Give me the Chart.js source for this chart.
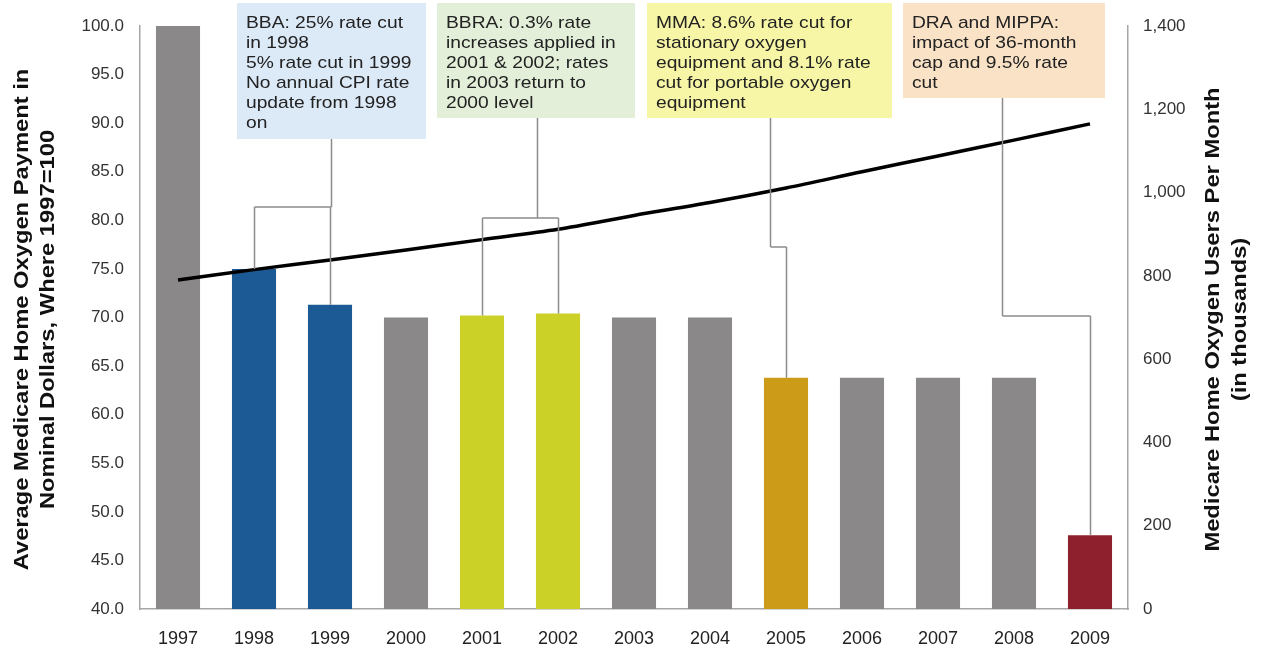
<!DOCTYPE html>
<html>
<head>
<meta charset="utf-8">
<script src="https://cdn.jsdelivr.net/npm/chart.js@4/dist/chart.umd.min.js"></script>
<style>
html,body{margin:0;padding:0;background:#fff;}
#c{display:block;}
</style>
</head>
<body>
<canvas id="c" width="1261" height="656"></canvas>
<script>
// ---- data ----
const years = ['1997','1998','1999','2000','2001','2002','2003','2004','2005','2006','2007','2008','2009'];
const paymentIndex = [100.0, 75.0, 71.3, 70.0, 70.2, 70.4, 70.0, 70.0, 63.8, 63.8, 63.8, 63.8, 47.6];
const usersThousands = [790, 815, 838, 862, 887, 912, 945, 976, 1011, 1050, 1088, 1126, 1165];
const barColors = ['#8a8889','#1b5a94','#1b5a94','#8a8889','#cbd126','#cbd126','#8a8889','#8a8889','#cc9c18','#8a8889','#8a8889','#8a8889','#8e1f2c'];
const leftTicks = [40,45,50,55,60,65,70,75,80,85,90,95,100];
const rightTicks = [0,200,400,600,800,1000,1200,1400];
const leftTitle = ['Average Medicare Home Oxygen Payment in', 'Nominal Dollars, Where 1997=100'];
const rightTitle = ['Medicare Home Oxygen Users Per Month', '(in thousands)'];
const notes = [
  {lines:['BBA: 25% rate cut','in 1998','5% rate cut in 1999','No annual CPI rate','update from 1998','on'], bars:[1,2]},
  {lines:['BBRA: 0.3% rate','increases applied in','2001 & 2002; rates','in 2003 return to','2000 level'], bars:[4,5]},
  {lines:['MMA: 8.6% rate cut for','stationary oxygen','equipment and 8.1% rate','cut for portable oxygen','equipment'], bars:[8]},
  {lines:['DRA and MIPPA:','impact of 36-month','cap and 9.5% rate','cut'], bars:[12]}
];

// ---- layout (styles/positions) ----
const FONT = '"Liberation Sans", Arial, sans-serif';
const boxStyle = [
  {x:237, y:3, w:189, h:136, fill:'#dce9f7', stemX:331, joinY:207},
  {x:437, y:3, w:198, h:115, fill:'#e3efd9', stemX:537, joinY:218},
  {x:647, y:3, w:245, h:115, fill:'#f6f6a6', stemX:770, joinY:247},
  {x:903, y:3, w:202, h:95,  fill:'#f9e2c6', stemX:1002, joinY:316}
];

const annotPlugin = {
  id:'annot',
  afterDatasetsDraw(chart){
    const ctx = chart.ctx;
    const xs = chart.scales.x, ys = chart.scales.y;
    ctx.save();
    // connectors
    ctx.strokeStyle = '#8c8c8c';
    ctx.lineWidth = 1.5;
    notes.forEach((n,i)=>{
      const b = boxStyle[i];
      const cx = n.bars.map(k=>Math.round(xs.getPixelForValue(k))+0.5);
      const tops = n.bars.map(k=>ys.getPixelForValue(paymentIndex[k]));
      ctx.beginPath();
      ctx.moveTo(b.stemX+0.5, b.y+b.h);
      ctx.lineTo(b.stemX+0.5, b.joinY);
      const xmin = Math.min(b.stemX+0.5, ...cx), xmax = Math.max(b.stemX+0.5, ...cx);
      ctx.moveTo(xmin, b.joinY);
      ctx.lineTo(xmax, b.joinY);
      cx.forEach((x,j)=>{ ctx.moveTo(x, b.joinY); ctx.lineTo(x, tops[j]); });
      ctx.stroke();
    });
    // boxes
    notes.forEach((n,i)=>{
      const b = boxStyle[i];
      ctx.fillStyle = b.fill;
      ctx.fillRect(b.x, b.y, b.w, b.h);
      ctx.fillStyle = '#222';
      ctx.font = '17px ' + FONT;
      ctx.textAlign = 'left';
      ctx.textBaseline = 'middle';
      n.lines.forEach((t,j)=>{
        ctx.save();
        ctx.translate(b.x+9, b.y+20+j*20);
        ctx.scale(1.13, 1);
        ctx.fillText(t, 0, 0);
        ctx.restore();
      });
    });
    ctx.restore();
  },
  afterDraw(chart){
    const ctx = chart.ctx;
    const ca = chart.chartArea;
    const cy = (ca.top+ca.bottom)/2 + 2;
    ctx.save();
    ctx.fillStyle = '#111';
    ctx.font = 'bold 21px ' + FONT;
    ctx.textAlign = 'center';
    ctx.textBaseline = 'middle';
    [[leftTitle, [22,48]], [rightTitle, [1213,1240]]].forEach(([lines, xs])=>{
      lines.forEach((t,j)=>{
        ctx.save();
        ctx.translate(xs[j], cy);
        ctx.rotate(-Math.PI/2);
        ctx.scale(1.13, 1);
        ctx.fillText(t, 0, 0);
        ctx.restore();
      });
    });
    ctx.restore();
  }
};

new Chart(document.getElementById('c'), {
  data:{
    labels: years,
    datasets:[
      {type:'line', data: usersThousands, yAxisID:'y2', borderColor:'#000', borderWidth:3.5,
       pointRadius:0, tension:0.3, order:0},
      {type:'bar', data: paymentIndex, yAxisID:'y', backgroundColor: barColors,
       categoryPercentage:1.0, barPercentage:0.58, order:1}
    ]
  },
  options:{
    responsive:false,
    animation:false,
    layout:{padding:{top:26, left:0, right:0, bottom:0}},
    plugins:{legend:{display:false}, tooltip:{enabled:false}},
    scales:{
      x:{
        grid:{display:false},
        border:{display:true, color:'#a6a6a6', width:1.5},
        ticks:{color:'#222', font:{family:FONT, size:18}, padding:11, maxRotation:0},
        afterFit(s){ s.height = 47; }
      },
      y:{
        position:'left', min:40, max:100,
        afterBuildTicks(s){ s.ticks = leftTicks.map(v=>({value:v})); },
        grid:{display:false},
        border:{display:true, color:'#a6a6a6', width:1.5},
        ticks:{color:'#333', font:{family:FONT, size:17}, padding:8, callback:v=>Number(v).toFixed(1)},
        afterFit(s){ s.width = 140; }
      },
      y2:{
        position:'right', min:0, max:1400,
        afterBuildTicks(s){ s.ticks = rightTicks.map(v=>({value:v})); },
        grid:{display:false},
        border:{display:true, color:'#a6a6a6', width:1.5},
        ticks:{color:'#333', font:{family:FONT, size:17}, padding:7, callback:v=>Number(v).toLocaleString('en-US')},
        afterFit(s){ s.width = 133; }
      }
    }
  },
  plugins:[annotPlugin]
});
</script>
</body>
</html>
